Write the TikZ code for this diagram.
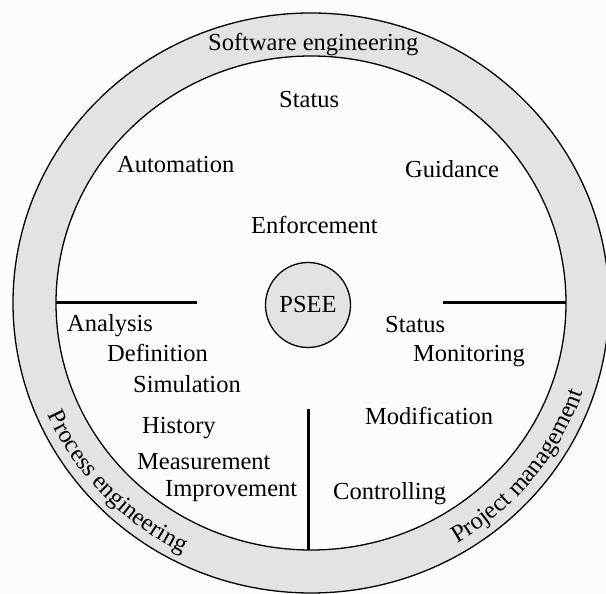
\documentclass[tikz,border=0pt]{standalone}
\usepackage{fontspec}
\setmainfont{Liberation Serif}
\usetikzlibrary{decorations.text}
\definecolor{ringgray}{HTML}{E1E4E1}
\definecolor{bgwhite}{HTML}{FBFCFB}
\begin{document}
\begin{tikzpicture}[x=1pt,y=1pt,
  lbl/.style={anchor=base west, inner sep=0pt, font=\fontsize{24.5}{28}\selectfont},
  border/.style={draw=black, line width=1.3pt},
  divider/.style={draw=black, line width=3pt},
  hub/.style={circle, draw=black, line width=1.3pt, fill=ringgray, minimum size=85pt, inner sep=0pt, font=\fontsize{24.5}{28}\selectfont}]
\useasboundingbox (0,0) rectangle (606,594);
\clip (0,0) rectangle (606,594);
\fill[bgwhite] (0,0) rectangle (606,594);
\coordinate (C) at (311,291);
% ring
\fill[ringgray, even odd rule] (C) ellipse [x radius=298pt, y radius=290pt]
                               (C) ellipse [x radius=255pt, y radius=247pt];
\draw[border] (C) ellipse [x radius=298pt, y radius=290pt];
\draw[border] (C) ellipse [x radius=255pt, y radius=247pt];
% curved ring labels
\path[decorate, decoration={text along path, text align=center,
   text={|\fontsize{24.5}{28}\selectfont|Process engineering}}]
   (C) ++(200:287pt and 279pt) arc[start angle=200, end angle=247, x radius=287pt, y radius=279pt];
\path[decorate, decoration={text along path, text align=center,
   text={|\fontsize{24.5}{28}\selectfont|Project management}}]
   (C) ++(297:287pt and 279pt) arc[start angle=297, end angle=345, x radius=287pt, y radius=279pt];
% dividers
\coordinate (lA) at (56,291);
\coordinate (lB) at (197,291);
\coordinate (rA) at (443,291);
\coordinate (rB) at (566,291);
\coordinate (vA) at (308,185);
\coordinate (vB) at (308,44);
\draw[divider] (lA) -- (lB);
\draw[divider] (rA) -- (rB);
\draw[divider] (vA) -- (vB);
% hub
\node[hub] (psee) at (308,289) {PSEE};
% labels
\node[lbl] (swe) at (208,543) {Software engineering};
\node[lbl] (status1) at (279,486) {Status};
\node[lbl] (autom) at (117,421) {Automation};
\node[lbl] (guid) at (405,416) {Guidance};
\node[lbl] (enf) at (251,360) {Enforcement};
\node[lbl] (anal) at (67,262) {Analysis};
\node[lbl] (defn) at (107,232) {Definition};
\node[lbl] (simu) at (133,201) {Simulation};
\node[lbl] (hist) at (142,160) {History};
\node[lbl] (meas) at (137,124) {Measurement};
\node[lbl] (impr) at (165,97) {Improvement};
\node[lbl] (status2) at (385,261) {Status};
\node[lbl] (moni) at (413,232) {Monitoring};
\node[lbl] (modi) at (365,169) {Modification};
\node[lbl] (ctrl) at (333,94) {Controlling};
\end{tikzpicture}
\end{document}
